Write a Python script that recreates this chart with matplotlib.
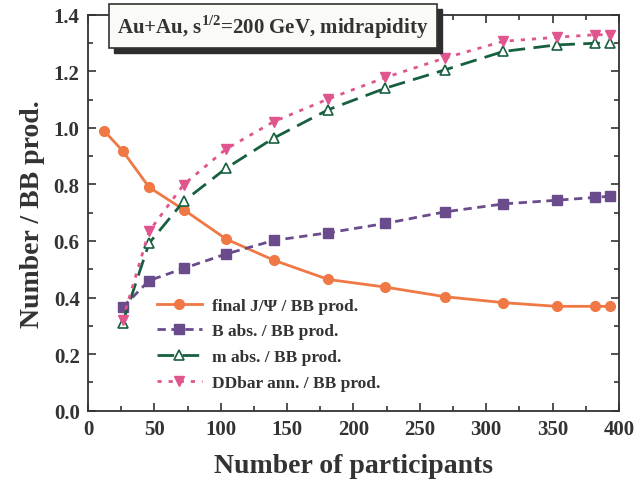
import matplotlib
matplotlib.use("Agg")
import matplotlib.pyplot as plt
from matplotlib.ticker import MultipleLocator, FormatStrFormatter
from matplotlib.transforms import offset_copy

plt.rcParams['font.family'] = ['Liberation Serif', 'DejaVu Serif']
plt.rcParams['font.weight'] = 'bold'
plt.rcParams['axes.labelweight'] = 'bold'
plt.rcParams['mathtext.fontset'] = 'custom'
plt.rcParams['mathtext.rm'] = 'Liberation Serif:bold'
plt.rcParams['mathtext.bf'] = 'Liberation Serif:bold'

# Data
npart = [12, 26, 46, 72, 104, 140, 181, 224, 269, 313, 353, 382, 393]
npart_abs = [26, 46, 72, 104, 140, 181, 224, 269, 313, 353, 382, 393]
jpsi = [0.99, 0.919, 0.79, 0.711, 0.607, 0.532, 0.464, 0.437, 0.403, 0.382, 0.369, 0.369, 0.369]
b_abs = [0.365, 0.46, 0.503, 0.554, 0.602, 0.629, 0.662, 0.703, 0.731, 0.744, 0.754, 0.758]
m_abs = [0.31, 0.592, 0.740, 0.857, 0.964, 1.064, 1.140, 1.205, 1.270, 1.293, 1.299, 1.299]
ddbar = [0.32, 0.634, 0.799, 0.925, 1.022, 1.102, 1.178, 1.247, 1.306, 1.320, 1.329, 1.329]

labels = ['final J/\u03a8 / BB prod.', 'B abs. / BB prod.',
          'm abs. / BB prod.', 'DDbar ann. / BB prod.']

fig = plt.figure(figsize=(6.34, 4.89), dpi=100)
ax = fig.add_axes([0.1388, 0.158, 0.8375, 0.81])

ax.plot(npart, jpsi, '-o', color='#EF7845', lw=2, ms=7, label=labels[0])
ax.plot(npart_abs, b_abs, '--s', color='#6A4C8C', lw=2, ms=7,
        dashes=(3, 2), label=labels[1])
ax.plot(npart_abs, m_abs, '--^', color='#17603F', lw=2, ms=7, mfc='white',
        mec='#17603F', mew=1.2, dashes=(6, 3), label=labels[2])
ax.plot(npart_abs, ddbar, ':v', color='#E0558E', lw=2, ms=7,
        dashes=(1.5, 2.5), label=labels[3])

ax.set_xlim(0, 400)
ax.set_ylim(0, 1.4)
ax.xaxis.set_major_locator(MultipleLocator(50))
ax.xaxis.set_minor_locator(MultipleLocator(25))
ax.yaxis.set_major_locator(MultipleLocator(0.2))
ax.yaxis.set_minor_locator(MultipleLocator(0.1))
ax.yaxis.set_major_formatter(FormatStrFormatter('%.1f'))
ax.tick_params(which='both', direction='in', top=True, right=True,
               labelsize=15, width=1.2, colors='#333333', labelcolor='#333333')
ax.tick_params(which='major', length=6, pad=6)
ax.tick_params(which='minor', length=3.5)
for lab in ax.get_xticklabels() + ax.get_yticklabels():
    lab.set_fontweight('bold')
for s in ax.spines.values():
    s.set_linewidth(1.3)
    s.set_color('#333333')

ax.set_xlabel('Number of participants', fontsize=20, color='#333333', labelpad=10)
ax.set_ylabel('Number / BB prod.', fontsize=20, color='#333333', labelpad=6)

ax.legend(loc='upper left', bbox_to_anchor=(0.1, 0.325), frameon=False,
          fontsize=12.5, handlelength=2.6, handletextpad=0.6, numpoints=1,
          labelspacing=0.55, labelcolor='#333333')

# title box; the shadow is a dark copy of the box shifted down-right
title = r'Au+Au, s$^{\mathrm{1/2}}$=200 GeV, midrapidity'
tx, ty = 0.055, 0.972
shadow = offset_copy(ax.transAxes, fig=fig, x=5, y=-5, units='dots')
ax.text(tx, ty, title, transform=shadow, fontsize=15, color='#2E2E2E',
        va='center', ha='left', zorder=5,
        bbox=dict(boxstyle='square,pad=0.4', fc='#2E2E2E', ec='#2E2E2E'))
ax.text(tx, ty, title, transform=ax.transAxes, fontsize=15, color='#333333',
        va='center', ha='left', zorder=6,
        bbox=dict(boxstyle='square,pad=0.4', fc='#FAFAF6', ec='#333333', lw=1.2))

plt.savefig('out.png', dpi=100)
